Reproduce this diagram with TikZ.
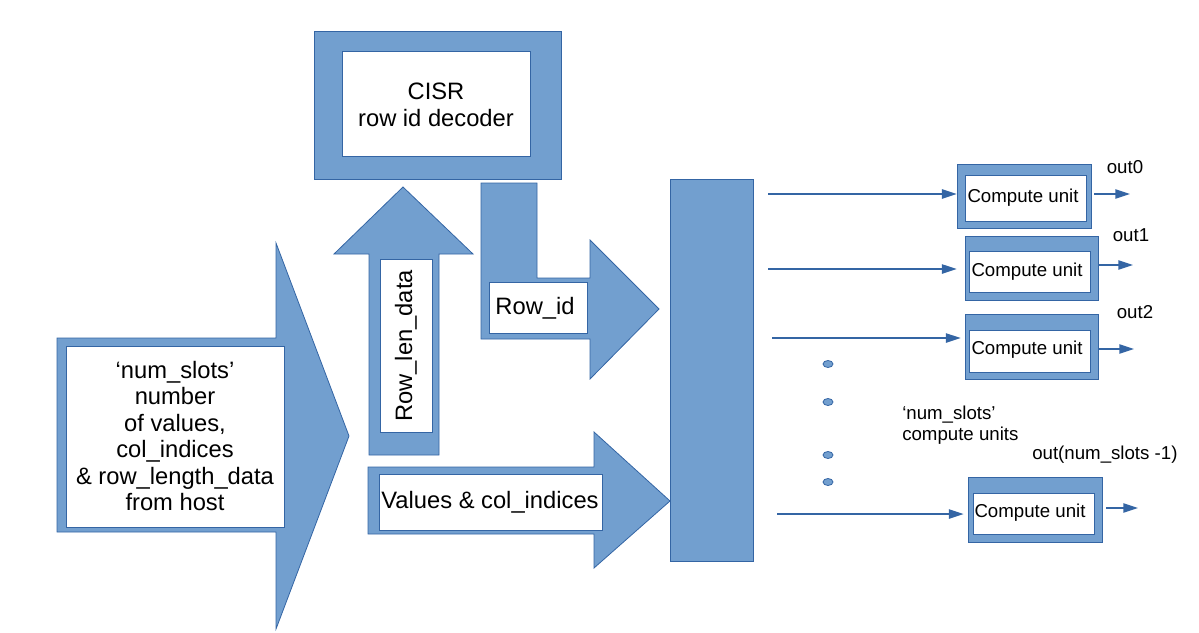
\documentclass[tikz,border=0pt]{standalone}
\usepackage{fontspec}
\setmainfont{Liberation Sans}
\usetikzlibrary{arrows.meta,fit}
\definecolor{bfill}{HTML}{729FCF}
\definecolor{bline}{HTML}{3465A4}
\tikzset{
  shp/.style={fill=bfill,draw=bline,line width=0.6pt,line join=miter},
  wbox/.style={fill=white,draw=bline,line width=0.6pt},
  big/.style={font=\fontsize{17.8}{19.8}\selectfont,align=center,inner sep=0pt},
  small/.style={font=\fontsize{14}{15.8}\selectfont,inner sep=0pt},
  cubox/.style={shp,inner sep=0pt},
  conn/.style={draw=bline,line width=1pt,-{Triangle[length=11pt,width=7pt]}},
  dotm/.style={fill=bfill,draw=bline,line width=0.6pt}
}
\begin{document}
\begin{tikzpicture}[x=0.75pt,y=-0.75pt]
\useasboundingbox (0,0) rectangle (1199,632);
% big input arrow
\path[shp] (57,338) -- (276,338) -- (276,243) -- (349,436) -- (276,629) -- (276,532) -- (57,532) -- cycle;
\path[wbox] (66,346) rectangle (284,527);
\node[big] (host) at (175,436) {‘num\_slots’\\number\\of values,\\col\_indices\\\& row\_length\_data\\from host};
% CISR decoder
\path[shp] (314,31) rectangle (561,179);
\path[wbox] (342,51) rectangle (530,156);
\node[big] (cisr) at (436,105) {CISR\\row id decoder};
% Row_len_data up arrow
\path[shp] (369,455) -- (369,254) -- (334,254) -- (403,187) -- (473,254) -- (439,254) -- (439,455) -- cycle;
\path[wbox] (380,259) rectangle (432,432);
\node[big,rotate=90] (rowlen) at (406,346) {Row\_len\_data};
% Row_id bent arrow
\path[shp] (481,183) -- (537,183) -- (537,278) -- (590,278) -- (590,240) -- (659,309) -- (590,379) -- (590,339) -- (481,339) -- cycle;
\path[wbox] (489,282) rectangle (587,333);
\node[big] (rowid) at (535,308) {Row\_id};
% Values arrow
\path[shp] (368,467) -- (594,467) -- (594,432) -- (670,501) -- (594,568) -- (594,534) -- (368,534) -- cycle;
\path[wbox] (379,474) rectangle (602,530);
\node[big] (vals) at (490,502) {Values \& col\_indices};
% tall bar
\node[cubox,fit={(670,179)(753,561)}] (bar) {};
% compute units
\node[cubox,fit={(957,164)(1091,228)}] (cu0) {};
\path[wbox] (965,175) rectangle (1086,221);
\node[small] (cu0t) at (1023,198) {Compute unit};
\node[cubox,fit={(965,236)(1098,300)}] (cu1) {};
\path[wbox] (969,251) rectangle (1090,292);
\node[small] (cu1t) at (1027,272) {Compute unit};
\node[cubox,fit={(965,314)(1098,379)}] (cu2) {};
\path[wbox] (969,330) rectangle (1090,372);
\node[small] (cu2t) at (1027,350) {Compute unit};
\node[cubox,fit={(968,477)(1102,542)}] (cu3) {};
\path[wbox] (973,493) rectangle (1094,534);
\node[small] (cu3t) at (1030,513) {Compute unit};
% input connectors
\coordinate (s0) at (768,194);
\coordinate (s1) at (768,269);
\coordinate (s2) at (772,338);
\coordinate (s3) at (777,514);
\draw[conn] (s0) -- (s0 -| cu0.west);
\draw[conn,shorten >=6pt] (s1) -- (s1 -| cu1.west);
\draw[conn,shorten >=3pt] (s2) -- (s2 -| cu2.west);
\draw[conn,shorten >=3pt] (s3) -- (s3 -| cu3.west);
% output connectors
\coordinate (o0) at (1130,194);
\coordinate (o1) at (1133,265);
\coordinate (o2) at (1134,349);
\coordinate (o3) at (1138,508);
\draw[conn,shorten <=2pt] (o0 -| cu0.east) -- (o0);
\draw[conn] (o1 -| cu1.east) -- (o1);
\draw[conn] (o2 -| cu2.east) -- (o2);
\draw[conn,shorten <=3pt] (o3 -| cu3.east) -- (o3);
% output labels
\node[small] (l0) at (1125,167) {out0};
\node[small] (l1) at (1131,235) {out1};
\node[small] (l2) at (1135,312) {out2};
\node[small,anchor=west] (l3) at (1032,455) {out(num\_slots -1)};
% dots
\path[dotm] (828,364) ellipse [x radius=5, y radius=3.5];
\path[dotm] (828,402) ellipse [x radius=5, y radius=3.5];
\path[dotm] (828,455) ellipse [x radius=5, y radius=3.5];
\path[dotm] (828,482) ellipse [x radius=5, y radius=3.5];
\node[small,anchor=west,align=left] (ns) at (902,425) {‘num\_slots’\\compute units};
\end{tikzpicture}
\end{document}
